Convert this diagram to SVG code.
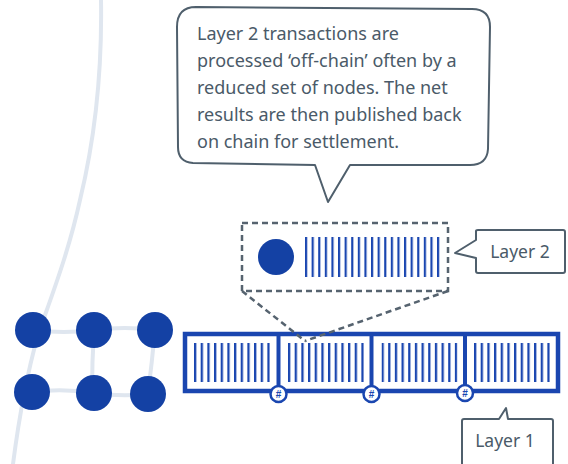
<svg xmlns="http://www.w3.org/2000/svg" width="568" height="464" viewBox="0 0 568 464">
<defs>
<style>
.txt{font-family:"Noto Sans","Open Sans","Liberation Sans",sans-serif;fill:#4a5a68;}
.call{fill:#fff;stroke:#4f5f6c;stroke-width:2;stroke-linejoin:round;}
.grid{fill:none;stroke:#dfe6ef;stroke-width:4;stroke-linecap:round;}
.node{fill:#1441a4;}
.dash{fill:none;stroke:#56636f;stroke-width:2.5;stroke-dasharray:6 4;}
.frame{fill:#fff;stroke:#1a46b0;stroke-width:4.5;}
.hash{fill:#fff;stroke:#1a46b0;stroke-width:2.5;}
.hs{font-family:"Liberation Sans",sans-serif;font-size:10px;font-weight:bold;fill:#1a46b0;text-anchor:middle;}
</style>
<pattern id="bars21" x="305" y="0" width="6.6" height="464" patternUnits="userSpaceOnUse">
<rect x="0" y="0" width="2.2" height="464" fill="#1a46b0"/>
</pattern>
<pattern id="bars12" x="194" y="0" width="6.67" height="464" patternUnits="userSpaceOnUse">
<rect x="0" y="0" width="2.3" height="464" fill="#1a46b0"/>
</pattern>
</defs>

<g id="connectors">
<path class="grid" d="M101,0 C102,60 97,130 80,200 C68,255 50,300 38,335 C28,370 20,410 13,464"/>
<path class="grid" d="M33,330 Q64,334 94,330 Q125,326 155,330"/>
<path class="grid" d="M32,392 Q63,388 94,393 Q121,397 148,394"/>
<path class="grid" d="M94,330 Q92,362 92,393"/>
<path class="grid" d="M155,330 Q152,362 148,394"/>
</g>

<g id="network">
<circle class="node" cx="33" cy="330" r="18"/>
<circle class="node" cx="94" cy="330" r="18"/>
<circle class="node" cx="155" cy="330" r="18"/>
<circle class="node" cx="32" cy="392" r="18"/>
<circle class="node" cx="94" cy="393" r="18"/>
<circle class="node" cx="148" cy="394" r="18"/>
</g>

<g id="callout">
<path class="call" d="M196,7 L472,9 Q490,9 490,27 L488,149 Q487,165 470,165 L350,165 L328,202 L315,165 L193,163 Q178,162 178,147 L177,27 Q177,7 196,7 Z"/>
<text class="txt" font-size="18"><tspan x="197" y="40">Layer 2 transactions are</tspan><tspan x="197" y="67">processed ‘off-chain’ often by a</tspan><tspan x="197" y="94">reduced set of nodes. The net</tspan><tspan x="197" y="121">results are then published back</tspan><tspan x="197" y="148">on chain for settlement.</tspan></text>
</g>

<g id="layer2">
<rect class="dash" x="242" y="223" width="206" height="68"/>
<circle class="node" cx="276" cy="257" r="18"/>
<rect x="305" y="237" width="135" height="40" fill="url(#bars21)"/>
</g>

<g id="layer1">
<rect class="frame" x="185" y="334" width="373" height="57"/>
<line x1="278.5" y1="334" x2="278.5" y2="391" stroke="#1a46b0" stroke-width="4"/>
<line x1="371.5" y1="334" x2="371.5" y2="391" stroke="#1a46b0" stroke-width="4"/>
<line x1="465" y1="334" x2="465" y2="391" stroke="#1a46b0" stroke-width="4"/>
<rect x="194" y="343" width="76" height="39" fill="url(#bars12)"/>
<g transform="translate(94 0)"><rect x="194" y="343" width="76" height="39" fill="url(#bars12)"/></g>
<g transform="translate(187.5 0)"><rect x="194" y="343" width="76" height="39" fill="url(#bars12)"/></g>
<g transform="translate(280 0)"><rect x="194" y="343" width="76" height="39" fill="url(#bars12)"/></g>
<circle class="hash" cx="278.5" cy="394" r="8"/>
<circle class="hash" cx="371.5" cy="394" r="8"/>
<circle class="hash" cx="465" cy="393" r="8"/>
<text class="hs" x="278.5" y="397.5">#</text>
<text class="hs" x="371.5" y="397.5">#</text>
<text class="hs" x="465" y="396.5">#</text>
</g>

<g id="zoom-lines">
<path class="dash" d="M242,291 L305,341"/>
<path class="dash" d="M448,291 L305,341"/>
</g>

<g id="label-layer2">
<path class="call" d="M476,240 L476,231 Q476,230 478,230 L563,230 Q565,230 565,232 L565,271 Q565,273 563,273 L478,273 Q476,273 476,271 L476,258 L455,253 Z"/>
<text class="txt" x="520" y="258" font-size="17.5" text-anchor="middle">Layer 2</text>
</g>

<g id="label-layer1">
<path class="call" d="M499,419 L506,408 L508,419 L551,419 Q553,419 553,421 L553,470 L462,470 L462,421 Q462,419 464,419 Z"/>
<text class="txt" x="505" y="447" font-size="17.5" text-anchor="middle">Layer 1</text>
</g>
</svg>
